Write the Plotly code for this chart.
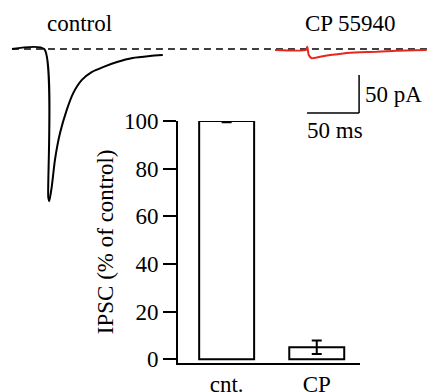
import plotly.graph_objects as go

# ---- data ----
categories = ["cnt.", "CP"]
ipsc_mean = [100, 5]
ipsc_err = [0.5, 2.8]
y_ticks = [0, 20, 40, 60, 80, 100]

control_t = [0, 31, 34.9, 35.9, 38.2, 41.3, 46.2, 52.6, 58.9, 67, 76.6, 87.5, 101, 116, 132.7, 145]
control_i = [0, 0, -194.7, -200, -181.6, -146, -110.5, -80.3, -57.9, -40.8, -30.3, -23.7, -17.1, -11.8, -9.2, -7.9]
cp_t = [252.9, 282.7, 283.9, 285.3, 288.2, 296.2, 305.8, 318.5, 334.6, 350.7, 369.9, 398.7]
cp_i = [-1.3, -1.3, 3, -7.9, -12.2, -10.1, -7.9, -5.7, -4.3, -3.6, -2.2, -1.3]
baseline_t = [0, 399]
baseline_i = [0, 0]

FONT = "Liberation Serif"
FS = 23
W, H = 427, 392

fig = go.Figure()

# traces panel (full figure axes)
fig.add_trace(go.Scatter(x=baseline_t, y=baseline_i, mode="lines",
                         line=dict(color="black", width=1.5, dash="7px,5px"),
                         xaxis="x2", yaxis="y2", showlegend=False, hoverinfo="skip"))
fig.add_trace(go.Scatter(x=control_t, y=control_i, mode="lines",
                         line=dict(color="black", width=2, shape="spline", smoothing=0.6),
                         xaxis="x2", yaxis="y2", showlegend=False))
fig.add_trace(go.Scatter(x=cp_t, y=cp_i, mode="lines",
                         line=dict(color="#e8261c", width=2, shape="spline", smoothing=0.5),
                         xaxis="x2", yaxis="y2", showlegend=False))

# bar chart
fig.add_trace(go.Bar(x=categories, y=ipsc_mean,
                     marker=dict(color="white", line=dict(color="black", width=2)),
                     width=0.61,
                     error_y=dict(type="data", array=ipsc_err, color="black", thickness=2, width=5),
                     showlegend=False))

# scale bars (50 ms / 50 pA)
fig.add_shape(type="line", xref="x2", yref="y2", x0=333.7, x1=333.7, y0=-34.2, y1=-84.2,
              line=dict(color="black", width=1.5))
fig.add_shape(type="line", xref="x2", yref="y2", x0=283.7, x1=333.7, y0=-84.2, y1=-84.2,
              line=dict(color="black", width=1.5))

ann_font = dict(family=FONT, size=FS, color="black")
fig.add_annotation(text="control", xref="paper", yref="paper", x=79/W, y=1-24/H,
                   showarrow=False, xanchor="center", yanchor="middle", font=ann_font)
fig.add_annotation(text="CP 55940", xref="paper", yref="paper", x=350/W, y=1-24/H,
                   showarrow=False, xanchor="center", yanchor="middle", font=ann_font)
fig.add_annotation(text="50 pA", xref="paper", yref="paper", x=363/W, y=1-95/H,
                   showarrow=False, xanchor="left", yanchor="middle", font=ann_font)
fig.add_annotation(text="50 ms", xref="paper", yref="paper", x=335/W, y=1-130/H,
                   showarrow=False, xanchor="center", yanchor="middle", font=ann_font)

fig.update_layout(
    width=W, height=H,
    margin=dict(l=0, r=0, t=0, b=0, autoexpand=False),
    paper_bgcolor="white", plot_bgcolor="rgba(0,0,0,0)",
    font=dict(family=FONT, size=FS, color="black"),
    xaxis=dict(domain=[178/W, 360/W], range=[-0.54, 1.48], showline=True, linecolor="black",
               linewidth=2, ticks="", showgrid=False, zeroline=False, anchor="y", automargin=False,
               tickfont=dict(family=FONT, size=FS, color="black")),
    yaxis=dict(domain=[1-362.7/H, 1-121/H], range=[-1.5, 100], showline=True, linecolor="black",
               linewidth=2, ticks="outside", ticklen=13, tickwidth=2, tickcolor="black",
               tickvals=y_ticks, showgrid=False, zeroline=False, anchor="x", automargin=False,
               tickfont=dict(family=FONT, size=FS, color="black"),
               title=dict(text="IPSC (% of control)", font=dict(family=FONT, size=FS, color="black"),
                          standoff=4)),
    xaxis2=dict(domain=[0, 1], range=[-11.5, 399], visible=False, anchor="y2", automargin=False),
    yaxis2=dict(domain=[0, 1], range=[-451, 64.5], visible=False, anchor="x2", automargin=False),
)

fig.write_html("out.html", config={"displayModeBar": False},
               post_script="document.body.style.margin='0px';")
